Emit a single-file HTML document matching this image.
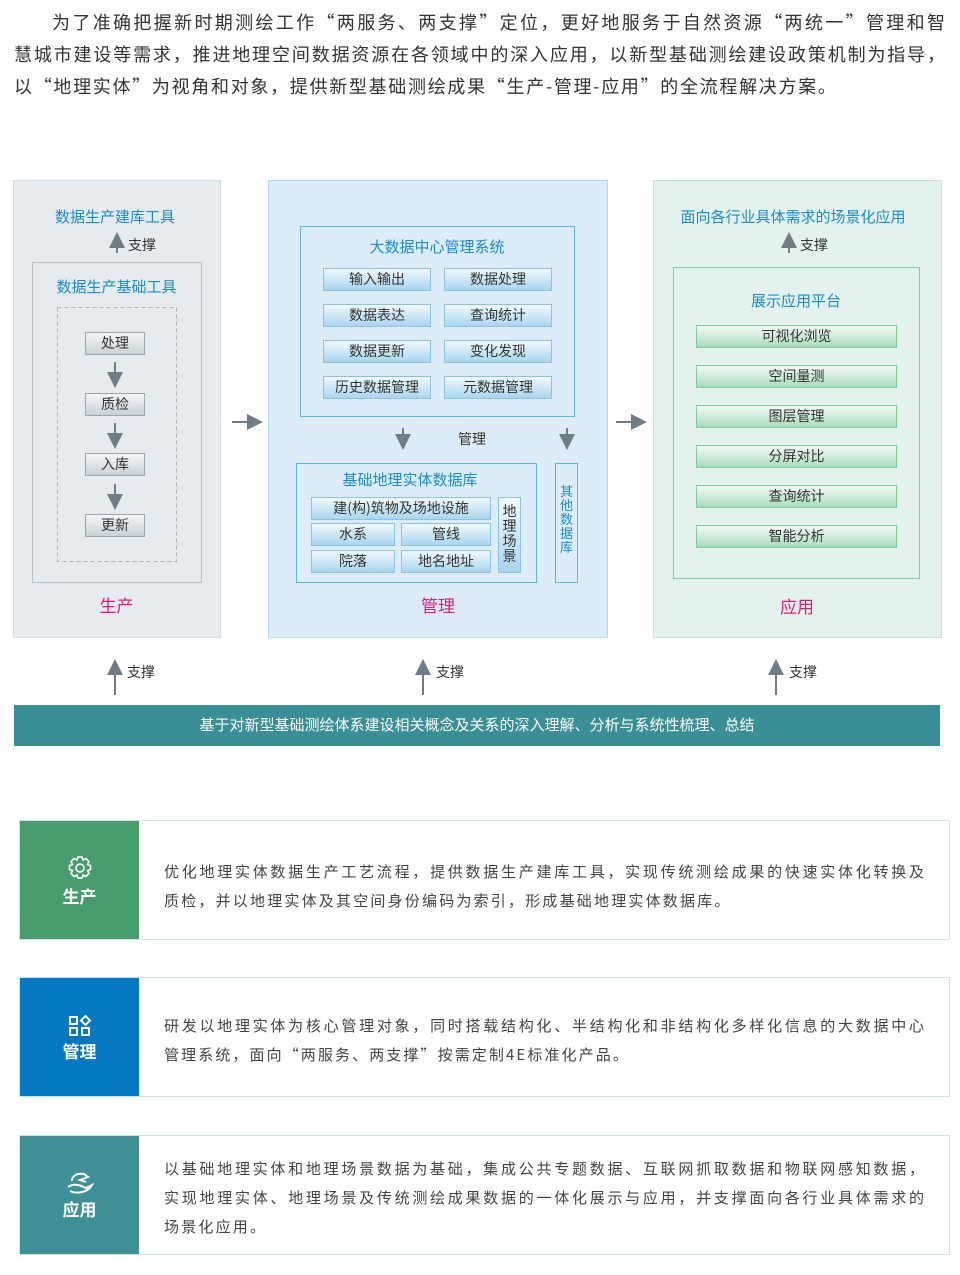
<!DOCTYPE html>
<html><head><meta charset="utf-8"><style>
*{margin:0;padding:0;box-sizing:border-box}
body{width:960px;height:1275px;background:#fff;position:relative;font-family:"Noto Sans CJK SC","Liberation Sans",sans-serif;overflow:hidden}
.a{position:absolute}
.ln{position:absolute;left:14px;width:931px;font-size:18px;color:#333;text-align:justify;text-align-last:justify;white-space:nowrap;line-height:32px}
.t{position:absolute;text-align:center;font-size:15px;color:#1a8ccc;white-space:nowrap}
.gb{position:absolute;height:23px;border:1px solid #9aa6ad;background:linear-gradient(#f4f6f7,#c9d2d7);font-size:14px;color:#333;text-align:center;line-height:21px;white-space:nowrap}
.bb{position:absolute;height:23px;border:1px solid #8cc3e3;background:linear-gradient(#f2f9fd,#a8d6f0);font-size:14px;color:#333;text-align:center;line-height:21px;white-space:nowrap}
.eb{position:absolute;height:23px;border:1px solid #7fcb9c;background:linear-gradient(#f3faf6,#a9dcbd);font-size:14px;color:#333;text-align:center;line-height:21px;white-space:nowrap}
.pk{position:absolute;font-size:17px;color:#e0197d;text-align:center}
.sm{position:absolute;font-size:14px;color:#333}
.card{position:absolute;left:19px;width:931px;height:120px;border:1px solid #cfe3e0;background:#fff}
.cb{position:absolute;left:0;top:0;width:119px;height:100%;color:#fff;font-size:17px;font-weight:bold;text-align:center}
.cb svg{display:block;margin:0 auto}
.ct{position:absolute;left:144px;width:760px;font-size:15px;color:#444;line-height:29px}
.ct div{text-align:justify;text-align-last:justify;white-space:nowrap}
.ct div.l{text-align-last:left}
</style></head><body>
<div class="ln" style="top:6px;padding-left:38px">为了准确把握新时期测绘工作“两服务、两支撑”定位，更好地服务于自然资源“两统一”管理和智</div>
<div class="ln" style="top:38px">慧城市建设等需求，推进地理空间数据资源在各领域中的深入应用，以新型基础测绘建设政策机制为指导，</div>
<div class="ln" style="top:70px;text-align-last:left;letter-spacing:1.7px">以“地理实体”为视角和对象，提供新型基础测绘成果“生产-管理-应用”的全流程解决方案。</div>

<svg class="a" style="left:0;top:0" width="960" height="760">
<defs><marker id="ar" markerWidth="8" markerHeight="8" refX="4" refY="4" orient="auto"><path d="M0,0 L8,4 L0,8 z" fill="#6f7d85"/></marker></defs>
<rect x="13.5" y="180.5" width="207" height="457" fill="#e6ebef" stroke="#d3dbe0"/>
<rect x="32.5" y="262.5" width="169" height="320" fill="none" stroke="#b8c2c8"/>
<rect x="57.5" y="307.5" width="119" height="254" fill="none" stroke="#aab4ba" stroke-dasharray="4,3"/>
<rect x="268.5" y="180.5" width="339" height="457" fill="#dcedf9" stroke="#b5dbf3"/>
<rect x="300.5" y="226.5" width="274" height="190" fill="none" stroke="#5bb7e8"/>
<rect x="296.5" y="463.5" width="240" height="119" fill="none" stroke="#5bb7e8"/>
<rect x="555.5" y="463.5" width="22" height="119" fill="none" stroke="#5bb7e8"/>
<rect x="653.5" y="180.5" width="288" height="457" fill="#e3f2ec" stroke="#c3e5d4"/>
<rect x="673.5" y="267.5" width="246" height="311" fill="none" stroke="#7fcfa3"/>
<g stroke="#6f7d85" stroke-width="2" fill="none">
<line x1="115" y1="362" x2="115" y2="380" marker-end="url(#ar)"/>
<line x1="115" y1="423" x2="115" y2="441" marker-end="url(#ar)"/>
<line x1="115" y1="484" x2="115" y2="502" marker-end="url(#ar)"/>
<line x1="117" y1="253" x2="117" y2="240" marker-end="url(#ar)"/>
<line x1="789" y1="253" x2="789" y2="240" marker-end="url(#ar)"/>
<line x1="403" y1="428" x2="403" y2="442" marker-end="url(#ar)"/>
<line x1="567" y1="428" x2="567" y2="442" marker-end="url(#ar)"/>
<line x1="232" y1="422" x2="255" y2="422" marker-end="url(#ar)"/>
<line x1="616" y1="422" x2="639" y2="422" marker-end="url(#ar)"/>
<line x1="115" y1="695" x2="115" y2="667" marker-end="url(#ar)"/>
<line x1="423" y1="695" x2="423" y2="667" marker-end="url(#ar)"/>
<line x1="776" y1="695" x2="776" y2="667" marker-end="url(#ar)"/>
</g>
<rect x="14" y="705" width="926" height="41" fill="#3a8f96"/>
</svg>

<div class="t" style="left:13px;width:204px;top:206px">数据生产建库工具</div>
<div class="sm" style="left:128px;top:235px">支撑</div>
<div class="t" style="left:32px;width:169px;top:276px">数据生产基础工具</div>
<div class="gb" style="left:85px;width:60px;top:332px">处理</div>
<div class="gb" style="left:85px;width:60px;top:393px">质检</div>
<div class="gb" style="left:85px;width:60px;top:453px">入库</div>
<div class="gb" style="left:85px;width:60px;top:514px">更新</div>
<div class="pk" style="left:13px;width:207px;top:592px">生产</div>

<div class="t" style="left:300px;width:274px;top:236px">大数据中心管理系统</div>
<div class="bb" style="left:323px;width:108px;top:268px">输入输出</div>
<div class="bb" style="left:444px;width:108px;top:268px">数据处理</div>
<div class="bb" style="left:323px;width:108px;top:304px">数据表达</div>
<div class="bb" style="left:444px;width:108px;top:304px">查询统计</div>
<div class="bb" style="left:323px;width:108px;top:340px">数据更新</div>
<div class="bb" style="left:444px;width:108px;top:340px">变化发现</div>
<div class="bb" style="left:323px;width:108px;top:376px">历史数据管理</div>
<div class="bb" style="left:444px;width:108px;top:376px">元数据管理</div>
<div class="sm" style="left:458px;top:429px">管理</div>
<div class="t" style="left:296px;width:228px;top:469px">基础地理实体数据库</div>
<div class="bb" style="left:311px;width:180px;top:497px">建(构)筑物及场地设施</div>
<div class="bb" style="left:311px;width:84px;top:523px">水系</div>
<div class="bb" style="left:401px;width:90px;top:523px">管线</div>
<div class="bb" style="left:311px;width:84px;top:550px">院落</div>
<div class="bb" style="left:401px;width:90px;top:550px">地名地址</div>
<div class="bb" style="left:498px;width:23px;top:497px;height:76px;white-space:normal;line-height:15px;padding-top:6px">地理场景</div>
<div class="a" style="left:556px;width:21px;top:484px;font-size:13px;line-height:14px;color:#1a8ccc;text-align:center">其他数据库</div>
<div class="pk" style="left:268px;width:340px;top:592px">管理</div>

<div class="t" style="left:653px;width:280px;top:206px">面向各行业具体需求的场景化应用</div>
<div class="sm" style="left:800px;top:235px">支撑</div>
<div class="t" style="left:673px;width:246px;top:290px">展示应用平台</div>
<div class="eb" style="left:696px;width:201px;top:325px">可视化浏览</div>
<div class="eb" style="left:696px;width:201px;top:365px">空间量测</div>
<div class="eb" style="left:696px;width:201px;top:405px">图层管理</div>
<div class="eb" style="left:696px;width:201px;top:445px">分屏对比</div>
<div class="eb" style="left:696px;width:201px;top:485px">查询统计</div>
<div class="eb" style="left:696px;width:201px;top:525px">智能分析</div>
<div class="pk" style="left:653px;width:288px;top:593px">应用</div>

<div class="sm" style="left:127px;top:662px">支撑</div>
<div class="sm" style="left:436px;top:662px">支撑</div>
<div class="sm" style="left:789px;top:662px">支撑</div>
<div class="a" style="left:14px;width:926px;top:714px;text-align:center;color:#fff;font-size:15px">基于对新型基础测绘体系建设相关概念及关系的深入理解、分析与系统性梳理、总结</div>

<div class="card" style="top:820px">
<div class="cb" style="background:#469c6c"><svg style="margin-top:34px" width="26" height="26" viewBox="0 0 26 26"><g fill="none" stroke="#fff" stroke-width="1.6"><circle cx="13" cy="13" r="4"/><path d="M11,2h4l1,3 3,-1.5 3,3-1.5,3 3,1v4l-3,1 1.5,3-3,3-3-1.5-1,3h-4l-1-3-3,1.5-3-3 1.5-3-3-1v-4l3-1-1.5-3 3-3 3,1.5z"/></g></svg><div style="margin-top:2px">生产</div></div>
<div class="ct" style="top:36px"><div>优化地理实体数据生产工艺流程，提供数据生产建库工具，实现传统测绘成果的快速实体化转换及</div><div class="l" style="letter-spacing:2.2px">质检，并以地理实体及其空间身份编码为索引，形成基础地理实体数据库。</div></div>
</div>
<div class="card" style="top:977px">
<div class="cb" style="background:#0478c0"><svg style="margin-top:37px" width="24" height="22" viewBox="0 0 24 22"><g fill="none" stroke="#fff" stroke-width="2"><rect x="2" y="2" width="7" height="7"/><rect x="2" y="13" width="7" height="7"/><rect x="14" y="13" width="7" height="7"/><path d="M17.5,1 L22,5.5 17.5,10 13,5.5z"/></g></svg><div style="margin-top:1px">管理</div></div>
<div class="ct" style="top:33px"><div>研发以地理实体为核心管理对象，同时搭载结构化、半结构化和非结构化多样化信息的大数据中心</div><div class="l" style="letter-spacing:2.1px">管理系统，面向“两服务、两支撑”按需定制4E标准化产品。</div></div>
</div>
<div class="card" style="top:1135px">
<div class="cb" style="background:#3f8f97"><svg style="margin-top:35px" width="28" height="24" viewBox="0 0 28 24"><g fill="none" stroke="#fff" stroke-width="2"><path d="M6,10 C6,4 12,2 18,3 L22,6 L14,9 L20,11"/><path d="M2,16 C8,12 14,14 20,17 L26,14 C22,22 10,23 4,20"/></g></svg><div style="margin-top:1px">应用</div></div>
<div class="ct" style="top:18px"><div>以基础地理实体和地理场景数据为基础，集成公共专题数据、互联网抓取数据和物联网感知数据，</div><div>实现地理实体、地理场景及传统测绘成果数据的一体化展示与应用，并支撑面向各行业具体需求的</div><div class="l" style="letter-spacing:2.2px">场景化应用。</div></div>
</div>
</body></html>
